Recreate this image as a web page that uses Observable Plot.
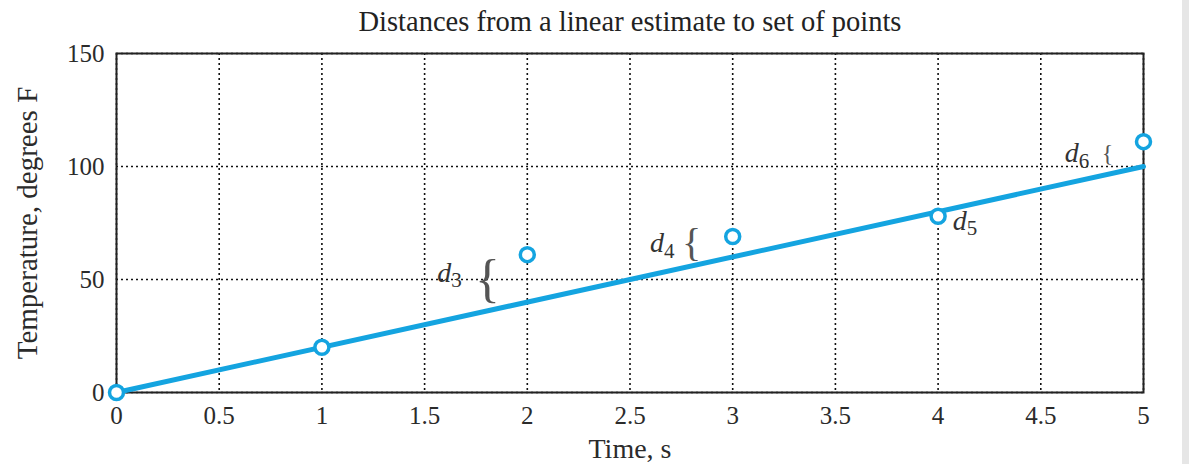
<!DOCTYPE html>
<html>
<head>
<meta charset="utf-8">
<script src="https://cdn.jsdelivr.net/npm/d3@7"></script>
<script src="https://cdn.jsdelivr.net/npm/@observablehq/plot@0.6"></script>
<style>
  html, body { margin: 0; padding: 0; }
  body { width: 1189px; height: 464px; overflow: hidden;
         background: linear-gradient(to right, #ffffff 0, #ffffff 1182px, #e6e6e6 1182px); }
  svg { display: block; }
</style>
</head>
<body>
<div id="chart"></div>
<script>
// ---- data ----
const time = [0, 1, 2, 3, 4, 5];
const temperature = [0, 20, 61, 69, 78, 111];
const fitTime = [0, 5];
const fitTemperature = [0, 100];
const xTicks = [0, 0.5, 1, 1.5, 2, 2.5, 3, 3.5, 4, 4.5, 5];
const xTickLabels = ["0", "0.5", "1", "1.5", "2", "2.5", "3", "3.5", "4", "4.5", "5"];
const yTicks = [0, 50, 100, 150];
const distIndex = ["3", "4", "5", "6"];
const distLabelX = [1.63, 2.665, 4.14, 4.685];
const distLabelY = [53, 66, 76, 106];
const braceX = [1.806, 2.80, null, 4.825];
const braceY = [50, 66, null, 106];
const titleText = "Distances from a linear estimate to set of points";
const xLabel = "Time, s";
const yLabel = "Temperature, degrees F";

const points = time.map((t, i) => ({t, v: temperature[i]}));
const fit = fitTime.map((t, i) => ({t, v: fitTemperature[i]}));
const labels = distIndex.map((k, i) => ({k, x: distLabelX[i], y: distLabelY[i]}));
const braces = distIndex.map((k, i) => ({k, x: braceX[i], y: braceY[i]})).filter(d => d.x != null);
const braceSize = {"3": 52, "4": 40, "6": 24};

const blue = "#14a4e0";
const serif = "'Liberation Serif', 'DejaVu Serif', serif";

const chart = Plot.plot({
  width: 1189,
  height: 464,
  marginLeft: 116,
  marginRight: 46,
  marginTop: 53,
  marginBottom: 72,
  style: {fontFamily: serif, fontSize: "25px", color: "#2b2b2b", background: "transparent"},
  x: {domain: [0, 5]},
  y: {domain: [0, 150]},
  marks: [
    Plot.gridX(xTicks, {stroke: "#111", strokeOpacity: 1, strokeWidth: 1.6, strokeDasharray: "2,3"}),
    Plot.gridY(yTicks, {stroke: "#111", strokeOpacity: 1, strokeWidth: 1.6, strokeDasharray: "2,3"}),
    Plot.frame({stroke: "#222", strokeWidth: 2}),
    Plot.axisX({ticks: xTicks, tickFormat: (d, i) => xTickLabels[i], tickSize: 0, tickPadding: 14,
                fontSize: 25, label: null}),
    Plot.axisX({ticks: [], label: xLabel, labelAnchor: "center", labelArrow: "none", labelOffset: 65, fontSize: 28}),
    Plot.axisY({ticks: yTicks, tickSize: 0, tickPadding: 12, fontSize: 25, label: null}),
    Plot.axisY({ticks: [], label: yLabel, labelAnchor: "center", labelArrow: "none", labelOffset: 100, fontSize: 29}),
    Plot.line(fit, {x: "t", y: "v", stroke: blue, strokeWidth: 5}),
    Plot.dot(points, {x: "t", y: "v", r: 7, stroke: blue, strokeWidth: 3.5, fill: "white"}),
    Plot.text(labels, {x: "x", y: "y", text: () => "d", fontStyle: "italic", fontSize: 28, fill: "#333", textAnchor: "end"}),
    Plot.text(labels, {x: "x", y: "y", text: "k", fontSize: 21, fill: "#333", textAnchor: "start", dx: 0, dy: 8}),
    Plot.text(braces, {x: "x", y: "y", text: () => "{", fontSize: (d) => braceSize[d.k], fill: "#555", fontWeight: 300}),
    Plot.text([titleText], {frameAnchor: "top", dy: -43, fontSize: 28.5, fill: "#222"})
  ]
});
document.getElementById("chart").append(chart);
</script>
</body>
</html>
